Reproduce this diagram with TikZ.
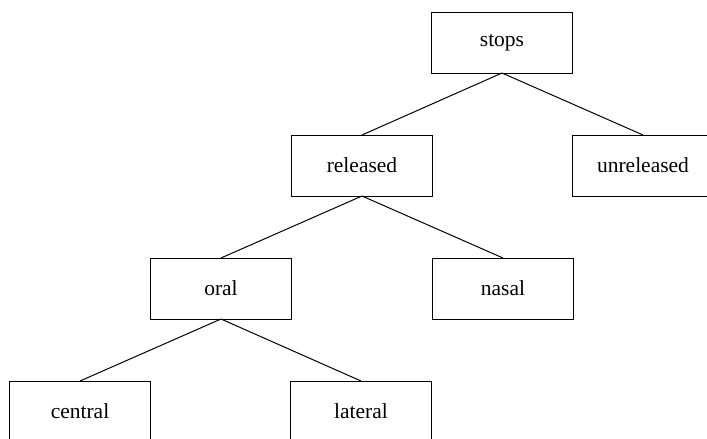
\documentclass[tikz,border=0pt]{standalone}
\usepackage{fontspec}
\setmainfont{Liberation Serif}
\usepackage{tikz}
\usetikzlibrary{positioning}
\tikzset{auto, node distance=62pt, font=\fontsize{21.5}{25}\selectfont}
\tikzstyle{box} = [draw, fill=white, rectangle, line width=1pt, minimum height=61pt, minimum width=141pt, text centered, inner sep=0pt, outer sep=0pt]
\tikzstyle{edge} = [line width=1pt]

\begin{document}
\begin{tikzpicture}[x=1pt, y=1pt]
    \useasboundingbox (0,0) rectangle (707,-439);
    \clip (0,0) rectangle (707,-439);
    \node [box] (stops) at (502,-42.5) {stops};
    \node [box, below left=62pt and -1pt of stops] (released) {released};
    \node [box, below right=62pt and 0pt of stops] (unreleased) {unreleased};
    \node [box, below left=62pt and 0pt of released] (oral) {oral};
    \node [box, below right=62pt and 0pt of released] (nasal) {nasal};
    \node [box, below left=62pt and 0pt of oral] (central) {central};
    \node [box, below right=62pt and -1pt of oral] (lateral) {lateral};

    \draw [edge] (stops.south) -- (released.north);
    \draw [edge] (stops.south) -- (unreleased.north);
    \draw [edge] (released.south) -- (oral.north);
    \draw [edge] (released.south) -- (nasal.north);
    \draw [edge] (oral.south) -- (central.north);
    \draw [edge] (oral.south) -- (lateral.north);
\end{tikzpicture}
\end{document}
